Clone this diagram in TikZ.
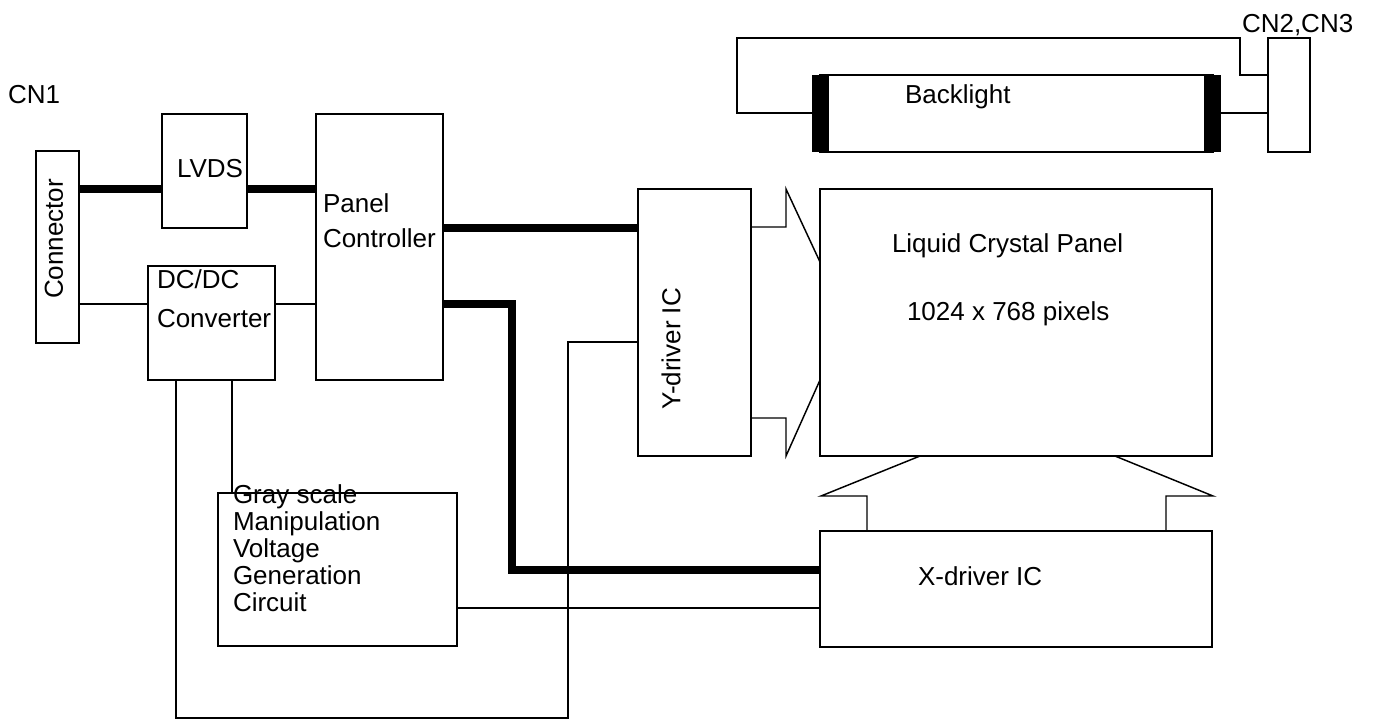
\documentclass[tikz,border=0pt]{standalone}
\usepackage{fontspec}
\setmainfont{Liberation Sans}
\newcommand\blkbox[6][]{\node[blk,#1,minimum width=#4*0.75pt,minimum height=#5*0.75pt,anchor=north west] (#2) at (#3) {#6};}
\begin{document}
\begin{tikzpicture}[x=0.75pt,y=-0.75pt,
  blk/.style={draw,line width=1.1pt,inner sep=0pt,outer sep=0pt,fill=white},
  endcap/.style={fill=black,draw=none},
  lbl/.style={inner sep=0pt,outer sep=0pt,font=\fontsize{19.5}{24}\selectfont},
  wire/.style={line width=1.1pt},
  bus/.style={line width=5.5pt}]
\useasboundingbox (0,0) rectangle (1374,722);
% blocks
\blkbox{conn}{36,151}{43}{192}{}
\blkbox{lvds}{162,114}{85}{114}{}
\blkbox{panel}{316,114}{127}{266}{}
\blkbox{dcdc}{148,266}{127}{114}{}
\blkbox{gray}{218,493}{239}{153}{}
\blkbox{ydrv}{638,189}{113}{267}{}
\blkbox{lcd}{820,189}{392}{267}{}
\blkbox{xdrv}{820,531}{392}{116}{}
\blkbox{back}{820,75}{393}{77}{}
\blkbox[endcap]{capL}{812,75}{17}{77}{}
\blkbox[endcap]{capR}{1204,75}{17}{77}{}
\blkbox{cn}{1268,38}{42}{114}{}
% buses
\draw[bus] (conn.east |- 0,189) -- (lvds.west |- 0,189);
\draw[bus] (lvds.east |- 0,189) -- (panel.west |- 0,189);
\draw[bus] (panel.east |- 0,228) -- (ydrv.west |- 0,228);
\draw[bus] (panel.east |- 0,304) -- (512,304) -- (512,570) -- (xdrv.west |- 0,570);
% thin wires
\draw[wire] (conn.east |- 0,304) -- (dcdc.west |- 0,304);
\draw[wire] (dcdc.east |- 0,304) -- (panel.west |- 0,304);
\draw[wire] (dcdc.south -| 232,0) -- (gray.north -| 232,0);
\draw[wire] (dcdc.south -| 176,0) -- (176,718) -- (568,718) -- (568,342) -- (ydrv.west |- 0,342);
\draw[wire] (gray.east |- 0,608) -- (xdrv.west |- 0,608);
% Y arrows
\draw[wire] (ydrv.east |- 0,227) -- (786,227) -- (786,189) -- (lcd.west |- 0,262);
\draw[wire] (ydrv.east |- 0,418) -- (786,418) -- (786,456) -- (lcd.west |- 0,380);
% X arrows
\draw[wire] (lcd.south -| 920,0) -- (821,496) -- (867,496) -- (xdrv.north -| 867,0);
\draw[wire] (lcd.south -| 1115,0) -- (1213,496) -- (1166,496) -- (xdrv.north -| 1166,0);
% backlight wiring
\draw[wire] (capL.west |- 0,113) -- (737,113) -- (737,38) -- (1240,38) -- (1240,75) -- (cn.west |- 0,75);
\draw[wire] (capR.east |- 0,113) -- (cn.west |- 0,113);
% labels
\node[lbl,anchor=base west] (tcn1) at (8,103) {CN1};
\node[lbl,anchor=base west] (tcn23) at (1242,32) {CN2,CN3};
\node[lbl,rotate=90] (tconn) at (54,239) {Connector};
\node[lbl,anchor=base west] (tlvds) at (177,177) {LVDS};
\node[lbl,anchor=base west] (tpan1) at (323,212) {Panel};
\node[lbl,anchor=base west] (tpan2) at (323,247) {Controller};
\node[lbl,anchor=base west] (tdc1) at (157,288) {DC/DC};
\node[lbl,anchor=base west] (tdc2) at (157,327) {Converter};
\node[lbl,anchor=base west] (tg1) at (233,503) {Gray scale};
\node[lbl,anchor=base west] (tg2) at (233,530) {Manipulation};
\node[lbl,anchor=base west] (tg3) at (233,557) {Voltage};
\node[lbl,anchor=base west] (tg4) at (233,584) {Generation};
\node[lbl,anchor=base west] (tg5) at (233,611) {Circuit};
\node[lbl,rotate=90] (tydrv) at (671,349) {Y-driver IC};
\node[lbl,anchor=base west] (tlcd1) at (892,252) {Liquid Crystal Panel};
\node[lbl,anchor=base west] (tlcd2) at (907,320) {1024 x 768 pixels};
\node[lbl,anchor=base west] (txdrv) at (918,585) {X-driver IC};
\node[lbl,anchor=base west] (tback) at (905,103) {Backlight};
\end{tikzpicture}
\end{document}
